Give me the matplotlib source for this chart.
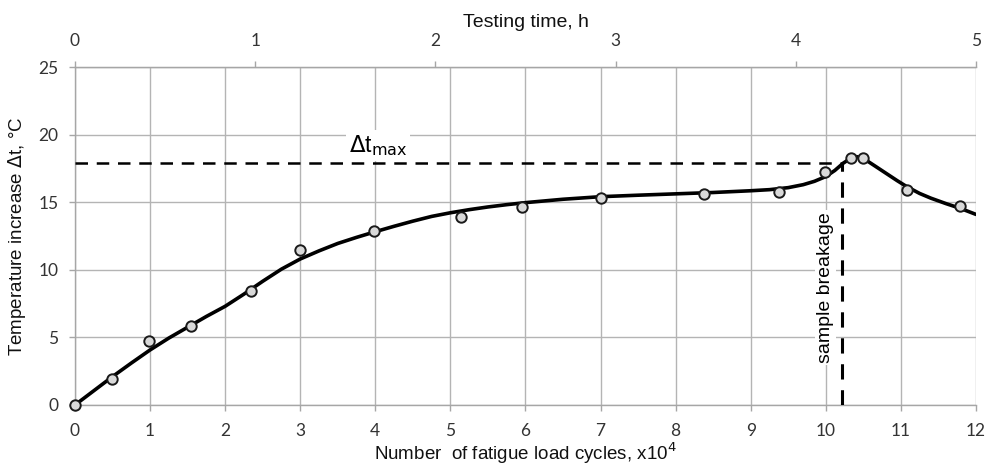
import matplotlib
matplotlib.use("Agg")
import matplotlib.pyplot as plt
import numpy as np

# measured points
cycles = [0.0, 0.49, 0.99, 1.55, 2.34, 3.0, 3.98, 5.14, 5.95, 7.0, 8.38, 9.38, 9.99, 10.34, 10.5, 11.08, 11.79]
temp = [0.0, 1.92, 4.73, 5.84, 8.45, 11.46, 12.9, 13.88, 14.67, 15.3, 15.6, 15.78, 17.2, 18.27, 18.27, 15.9, 14.7]

# fitted curve
curve_x = [0, 0.25, 0.5, 0.75, 1.0, 1.25, 1.5, 1.75, 2.0, 2.25, 2.5, 2.75, 3.0, 3.25, 3.5, 3.75, 4.0,
           4.25, 4.5, 4.75, 5.0, 5.25, 5.5, 5.75, 6.0, 6.5, 7.0, 7.5, 8.0, 8.5, 9.0, 9.25, 9.5, 9.7, 9.85,
           10.0, 10.12, 10.23, 10.33, 10.41, 10.48, 10.54, 10.65, 10.8, 10.95, 11.08, 11.25, 11.4, 11.6,
           11.79, 12.0]
curve_y = [0, 1.05, 2.1, 3.1, 4.07, 4.95, 5.75, 6.55, 7.3, 8.2, 9.15, 10.05, 10.8, 11.4, 11.95, 12.4, 12.82,
           13.22, 13.6, 13.95, 14.22, 14.45, 14.65, 14.82, 14.97, 15.22, 15.41, 15.52, 15.62, 15.72, 15.85,
           15.93, 16.08, 16.3, 16.55, 16.9, 17.35, 17.88, 18.25, 18.37, 18.3, 18.1, 17.7, 17.15, 16.6, 16.15,
           15.65, 15.3, 14.9, 14.55, 14.1]

dt_max = 17.9
breakage_x = 10.22
hours_per_unit = 2.4

fig = plt.figure(figsize=(9.89, 4.69), dpi=100)
ax = fig.add_axes([0.0758, 0.1365, 0.911, 0.7205])

ax.set_xlim(0, 12)
ax.set_ylim(0, 25)
ax.set_xticks(range(0, 13))
ax.set_yticks(range(0, 26, 5))
ax.grid(True, color="#b4b4b4", linewidth=1.0)
ax.set_axisbelow(True)
ax.spines["right"].set_visible(False)
for s in ["left", "bottom", "top"]:
    ax.spines[s].set_color("#a6a6a6")
    ax.spines[s].set_linewidth(1.0)
ax.tick_params(axis="x", color="#a6a6a6", length=4, width=1.0, labelsize=12.5,
               labelcolor="#333333", pad=9)
ax.tick_params(axis="y", color="#a6a6a6", length=4, width=1.0, labelsize=12.5,
               labelcolor="#333333", pad=8)
for lab in ax.get_xticklabels() + ax.get_yticklabels():
    lab.set_family("Lato")

ax.plot([0, breakage_x], [dt_max, dt_max], color="black", linestyle=(0, (5, 3.5)), linewidth=1.8, zorder=3)
ax.plot([breakage_x, breakage_x], [0, dt_max], color="black", linestyle=(0, (5, 3.5)), linewidth=2.2, zorder=3)

ax.plot(curve_x, curve_y, color="black", linewidth=2.6, solid_joinstyle="round",
        solid_capstyle="round", zorder=4)
ax.plot(cycles, temp, linestyle="none", marker="o", markersize=7.5, markerfacecolor="#d9d9d9",
        markeredgecolor="#1a1a1a", markeredgewidth=1.4, zorder=5, clip_on=False)

ax.text(4.04, 19.2, r"$\Delta$t$_{\rm max}$", fontsize=16.5, family="Liberation Sans", ha="center", va="center",
        bbox=dict(facecolor="white", edgecolor="none", pad=2), zorder=2)
ax.text(10.0, 8.7, "sample breakage", fontsize=14, family="Liberation Sans", rotation=90,
        ha="center", va="center", bbox=dict(facecolor="white", edgecolor="none", pad=1.5), zorder=2)

ax.set_xlabel("Number  of fatigue load cycles, x10$^4$", fontsize=13.5, family="Liberation Sans",
              labelpad=1, color="#111111")
ax.set_ylabel("Temperature increase $\\Delta$t, °C", fontsize=13.5, family="Liberation Sans",
              labelpad=7, color="#111111")

sec = ax.secondary_xaxis("top", functions=(lambda x: x / hours_per_unit, lambda h: h * hours_per_unit))
sec.set_xticks(range(0, 6))
sec.tick_params(color="#a6a6a6", length=4, width=1.0, labelsize=12.5, labelcolor="#333333", pad=9)
for lab in sec.get_xticklabels():
    lab.set_family("Lato")
sec.spines["top"].set_color("#a6a6a6")
sec.set_xlabel("Testing time, h", fontsize=14, family="Liberation Sans", labelpad=4, color="#111111")

fig.savefig("out.png", dpi=100)
